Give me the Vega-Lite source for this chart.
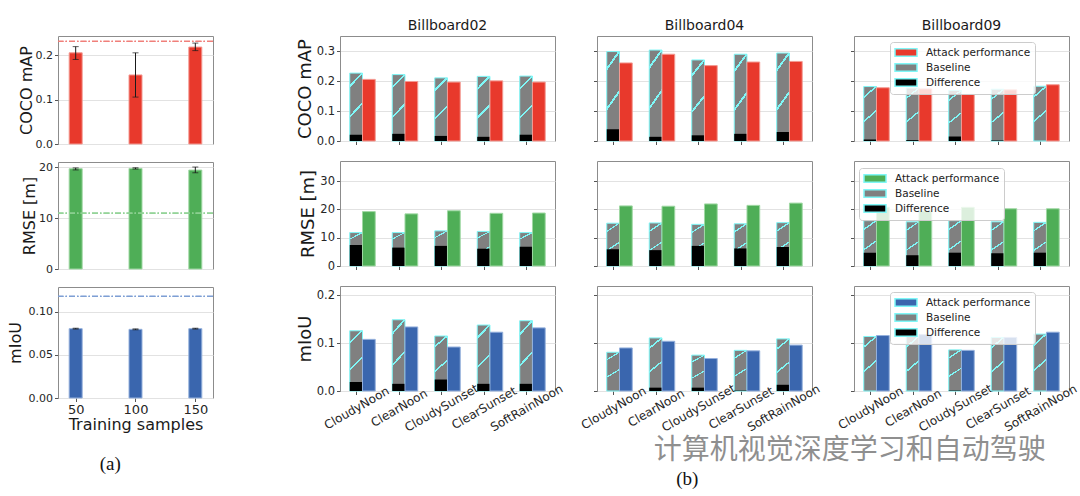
{
"$schema":"https://vega.github.io/schema/vega-lite/v6.json",
"background":"white",
"padding":{"left":6,"top":18,"right":0,"bottom":0},
"config":{
 "font":"DejaVu Sans",
 "view":{"stroke":"#8c8c8c","strokeWidth":1},
 "axis":{"labelFont":"DejaVu Sans","titleFont":"DejaVu Sans","labelColor":"#262626","titleColor":"#1a1a1a","titleFontWeight":"normal","tickColor":"#555555","tickWidth":1,"gridColor":"#e2e2e2","gridWidth":1,"domain":false,"tickCount":12},
 "title":{"font":"DejaVu Sans","fontWeight":"normal","fontSize":14,"color":"#1a1a1a"}
},
"title":{"text":"计算机视觉深度学习和自动驾驶","orient":"bottom","anchor":"end","frame":"bounds","font":"Noto Sans CJK SC","fontSize":28,"fontWeight":"normal","color":"#8f8f8f","opacity":0.75,"dx":-33,"dy":-52,"offset":0},
"datasets":{
 "left":[
  {"metric":"COCO","samples":50,"value":0.206,"lo":0.191,"hi":0.220,"ref":0.232},
  {"metric":"COCO","samples":100,"value":0.156,"lo":0.106,"hi":0.206,"ref":0.232},
  {"metric":"COCO","samples":150,"value":0.219,"lo":0.211,"hi":0.228,"ref":0.232},
  {"metric":"RMSE","samples":50,"value":19.74,"lo":19.5,"hi":19.9,"ref":11.0},
  {"metric":"RMSE","samples":100,"value":19.8,"lo":19.67,"hi":19.93,"ref":11.0},
  {"metric":"RMSE","samples":150,"value":19.47,"lo":18.94,"hi":20.07,"ref":11.0},
  {"metric":"mIoU","samples":50,"value":0.0806,"lo":0.0801,"hi":0.0811,"ref":0.1182},
  {"metric":"mIoU","samples":100,"value":0.0798,"lo":0.0793,"hi":0.0803,"ref":0.1182},
  {"metric":"mIoU","samples":150,"value":0.0806,"lo":0.0801,"hi":0.0811,"ref":0.1182}
 ],
 "grid":[
  {"board":"Billboard02","metric":"COCO","condition":"CloudyNoon","baseline":0.227,"attack":0.206,"difference":0.021},
  {"board":"Billboard02","metric":"COCO","condition":"ClearNoon","baseline":0.222,"attack":0.199,"difference":0.024},
  {"board":"Billboard02","metric":"COCO","condition":"CloudySunset","baseline":0.211,"attack":0.197,"difference":0.017},
  {"board":"Billboard02","metric":"COCO","condition":"ClearSunset","baseline":0.216,"attack":0.201,"difference":0.014},
  {"board":"Billboard02","metric":"COCO","condition":"SoftRainNoon","baseline":0.217,"attack":0.197,"difference":0.021},
  {"board":"Billboard04","metric":"COCO","condition":"CloudyNoon","baseline":0.299,"attack":0.261,"difference":0.039},
  {"board":"Billboard04","metric":"COCO","condition":"ClearNoon","baseline":0.304,"attack":0.290,"difference":0.014},
  {"board":"Billboard04","metric":"COCO","condition":"CloudySunset","baseline":0.271,"attack":0.252,"difference":0.019},
  {"board":"Billboard04","metric":"COCO","condition":"ClearSunset","baseline":0.290,"attack":0.264,"difference":0.024},
  {"board":"Billboard04","metric":"COCO","condition":"SoftRainNoon","baseline":0.294,"attack":0.266,"difference":0.030},
  {"board":"Billboard09","metric":"COCO","condition":"CloudyNoon","baseline":0.182,"attack":0.178,"difference":0.005},
  {"board":"Billboard09","metric":"COCO","condition":"ClearNoon","baseline":0.177,"attack":0.174,"difference":0.003},
  {"board":"Billboard09","metric":"COCO","condition":"CloudySunset","baseline":0.169,"attack":0.156,"difference":0.015},
  {"board":"Billboard09","metric":"COCO","condition":"ClearSunset","baseline":0.173,"attack":0.171,"difference":0.002},
  {"board":"Billboard09","metric":"COCO","condition":"SoftRainNoon","baseline":0.183,"attack":0.188,"difference":0},
  {"board":"Billboard02","metric":"RMSE","condition":"CloudyNoon","baseline":11.8,"attack":19.2,"difference":7.4},
  {"board":"Billboard02","metric":"RMSE","condition":"ClearNoon","baseline":11.8,"attack":18.4,"difference":6.5},
  {"board":"Billboard02","metric":"RMSE","condition":"CloudySunset","baseline":12.4,"attack":19.5,"difference":7.1},
  {"board":"Billboard02","metric":"RMSE","condition":"ClearSunset","baseline":12.2,"attack":18.6,"difference":6.1},
  {"board":"Billboard02","metric":"RMSE","condition":"SoftRainNoon","baseline":11.8,"attack":18.7,"difference":6.8},
  {"board":"Billboard04","metric":"RMSE","condition":"CloudyNoon","baseline":15.1,"attack":21.2,"difference":5.9},
  {"board":"Billboard04","metric":"RMSE","condition":"ClearNoon","baseline":15.2,"attack":21.1,"difference":5.6},
  {"board":"Billboard04","metric":"RMSE","condition":"CloudySunset","baseline":14.7,"attack":21.9,"difference":7.1},
  {"board":"Billboard04","metric":"RMSE","condition":"ClearSunset","baseline":14.9,"attack":21.4,"difference":6.2},
  {"board":"Billboard04","metric":"RMSE","condition":"SoftRainNoon","baseline":15.3,"attack":22.2,"difference":6.7},
  {"board":"Billboard09","metric":"RMSE","condition":"CloudyNoon","baseline":16.0,"attack":20.7,"difference":4.7},
  {"board":"Billboard09","metric":"RMSE","condition":"ClearNoon","baseline":15.6,"attack":19.4,"difference":3.8},
  {"board":"Billboard09","metric":"RMSE","condition":"CloudySunset","baseline":16.0,"attack":20.7,"difference":4.7},
  {"board":"Billboard09","metric":"RMSE","condition":"ClearSunset","baseline":15.6,"attack":20.2,"difference":4.5},
  {"board":"Billboard09","metric":"RMSE","condition":"SoftRainNoon","baseline":15.4,"attack":20.2,"difference":4.7},
  {"board":"Billboard02","metric":"mIoU","condition":"CloudyNoon","baseline":0.126,"attack":0.108,"difference":0.019},
  {"board":"Billboard02","metric":"mIoU","condition":"ClearNoon","baseline":0.149,"attack":0.134,"difference":0.015},
  {"board":"Billboard02","metric":"mIoU","condition":"CloudySunset","baseline":0.115,"attack":0.092,"difference":0.024},
  {"board":"Billboard02","metric":"mIoU","condition":"ClearSunset","baseline":0.138,"attack":0.123,"difference":0.015},
  {"board":"Billboard02","metric":"mIoU","condition":"SoftRainNoon","baseline":0.147,"attack":0.132,"difference":0.015},
  {"board":"Billboard04","metric":"mIoU","condition":"CloudyNoon","baseline":0.081,"attack":0.090,"difference":0},
  {"board":"Billboard04","metric":"mIoU","condition":"ClearNoon","baseline":0.111,"attack":0.104,"difference":0.007},
  {"board":"Billboard04","metric":"mIoU","condition":"CloudySunset","baseline":0.075,"attack":0.068,"difference":0.007},
  {"board":"Billboard04","metric":"mIoU","condition":"ClearSunset","baseline":0.085,"attack":0.084,"difference":0.001},
  {"board":"Billboard04","metric":"mIoU","condition":"SoftRainNoon","baseline":0.109,"attack":0.096,"difference":0.013},
  {"board":"Billboard09","metric":"mIoU","condition":"CloudyNoon","baseline":0.114,"attack":0.116,"difference":0},
  {"board":"Billboard09","metric":"mIoU","condition":"ClearNoon","baseline":0.114,"attack":0.118,"difference":0},
  {"board":"Billboard09","metric":"mIoU","condition":"CloudySunset","baseline":0.086,"attack":0.085,"difference":0.001},
  {"board":"Billboard09","metric":"mIoU","condition":"ClearSunset","baseline":0.112,"attack":0.112,"difference":0},
  {"board":"Billboard09","metric":"mIoU","condition":"SoftRainNoon","baseline":0.119,"attack":0.123,"difference":0}
 ]
},
"resolve":{"scale":{"x":"independent","y":"independent","color":"independent"},"axis":{"x":"independent","y":"independent"},"legend":{"color":"independent"}},
"spacing":81,
"hconcat":[
 {
  "vconcat":[
   {"width":155,"height":108,"data":{"name":"left"},"transform":[{"filter":"datum.metric==='COCO'"}],
    "layer":[
     {"mark":{"type":"bar","width":13,"color":"#e8392c","stroke":"#f39a92","strokeWidth":1},
      "encoding":{"x":{"field":"samples","type":"quantitative","scale":{"domain":[39.4,160.6],"nice":false,"zero":false},"axis":{"title":null,"labels":false,"ticks":false,"grid":false}},
       "y":{"field":"value","type":"quantitative","scale":{"domain":[0,0.244],"nice":false},"axis":{"title":"COCO mAP","titleFontSize":16,"titlePadding":1,"values":[0,0.1,0.2],"format":".1f","labelFontSize":11,"labelPadding":2,"tickSize":3.5,"grid":true}}}},
     {"mark":{"type":"rule","color":"#1a1a1a","strokeWidth":1},"encoding":{"x":{"field":"samples","type":"quantitative"},"y":{"field":"lo","type":"quantitative"},"y2":{"field":"hi"}}},
     {"mark":{"type":"tick","orient":"horizontal","size":6,"thickness":1,"color":"#1a1a1a"},"encoding":{"x":{"field":"samples","type":"quantitative"},"y":{"field":"lo","type":"quantitative"}}},
     {"mark":{"type":"tick","orient":"horizontal","size":6,"thickness":1,"color":"#1a1a1a"},"encoding":{"x":{"field":"samples","type":"quantitative"},"y":{"field":"hi","type":"quantitative"}}},
     {"mark":{"type":"rule","color":"#f07f7a","strokeWidth":1,"strokeDash":[6,2,1.5,2]},"encoding":{"y":{"field":"ref","type":"quantitative"}}}
    ]},
   {"width":155,"height":107,"data":{"name":"left"},"transform":[{"filter":"datum.metric==='RMSE'"}],
    "layer":[
     {"mark":{"type":"bar","width":13,"color":"#4fae57","stroke":"#9fd8a3","strokeWidth":1},
      "encoding":{"x":{"field":"samples","type":"quantitative","scale":{"domain":[39.4,160.6],"nice":false,"zero":false},"axis":{"title":null,"labels":false,"ticks":false,"grid":false}},
       "y":{"field":"value","type":"quantitative","scale":{"domain":[0,21.06],"nice":false},"axis":{"title":"RMSE [m]","titleFontSize":16,"titlePadding":1,"values":[0,10,20],"format":"d","labelFontSize":11,"labelPadding":2,"tickSize":3.5,"grid":true}}}},
     {"mark":{"type":"rule","color":"#1a1a1a","strokeWidth":1},"encoding":{"x":{"field":"samples","type":"quantitative"},"y":{"field":"lo","type":"quantitative"},"y2":{"field":"hi"}}},
     {"mark":{"type":"tick","orient":"horizontal","size":6,"thickness":1,"color":"#1a1a1a"},"encoding":{"x":{"field":"samples","type":"quantitative"},"y":{"field":"lo","type":"quantitative"}}},
     {"mark":{"type":"tick","orient":"horizontal","size":6,"thickness":1,"color":"#1a1a1a"},"encoding":{"x":{"field":"samples","type":"quantitative"},"y":{"field":"hi","type":"quantitative"}}},
     {"mark":{"type":"rule","color":"#8fd193","strokeWidth":1,"strokeDash":[6,2,1.5,2]},"encoding":{"y":{"field":"ref","type":"quantitative"}}}
    ]},
   {"width":155,"height":111,"data":{"name":"left"},"transform":[{"filter":"datum.metric==='mIoU'"}],
    "layer":[
     {"mark":{"type":"bar","width":13,"color":"#3a66ae","stroke":"#94b0dc","strokeWidth":1},
      "encoding":{"x":{"field":"samples","type":"quantitative","scale":{"domain":[39.4,160.6],"nice":false,"zero":false},"axis":{"title":"Training samples","titleFontSize":16,"titlePadding":0,"values":[50,100,150],"labelFontSize":13,"labelPadding":2,"tickSize":3.5,"grid":false}},
       "y":{"field":"value","type":"quantitative","scale":{"domain":[0,0.129],"nice":false},"axis":{"title":"mIoU","titleFontSize":16,"titlePadding":5,"values":[0,0.05,0.1],"format":".2f","labelFontSize":11,"labelPadding":2,"tickSize":3.5,"grid":true}}}},
     {"mark":{"type":"rule","color":"#1a1a1a","strokeWidth":1},"encoding":{"x":{"field":"samples","type":"quantitative"},"y":{"field":"lo","type":"quantitative"},"y2":{"field":"hi"}}},
     {"mark":{"type":"tick","orient":"horizontal","size":6,"thickness":1,"color":"#1a1a1a"},"encoding":{"x":{"field":"samples","type":"quantitative"},"y":{"field":"lo","type":"quantitative"}}},
     {"mark":{"type":"tick","orient":"horizontal","size":6,"thickness":1,"color":"#1a1a1a"},"encoding":{"x":{"field":"samples","type":"quantitative"},"y":{"field":"hi","type":"quantitative"}}},
     {"mark":{"type":"rule","color":"#7e9ed4","strokeWidth":1,"strokeDash":[6,2,1.5,2]},"encoding":{"y":{"field":"ref","type":"quantitative"}}}
    ]}
  ],
  "spacing":18,
  "bounds":"flush",
  "resolve":{"scale":{"x":"independent","y":"independent"},"axis":{"x":"independent","y":"independent"}},
  "title":{"text":"(a)","orient":"bottom","anchor":"middle","font":"Liberation Serif","fontSize":19,"fontWeight":"normal","offset":22,"color":"#111"}
 },
 {
  "concat":[
   {"width":215,"height":105,"title":{"text":"Billboard02","frame":"group","offset":3},"data":{"name":"grid"},"transform":[{"filter":"datum.board==='Billboard02' && datum.metric==='COCO'"}],
    "encoding":{"x":{"field":"condition","type":"nominal","scale":{"type":"point","domain":["CloudyNoon","ClearNoon","CloudySunset","ClearSunset","SoftRainNoon"],"padding":0.53,"align":0.358},"axis":{"title":null,"labels":false,"ticks":true,"tickSize":3.5,"grid":false}}},
    "layer":[
     {"mark":{"type":"bar","width":12.75,"stroke":"#7ff7f7","strokeWidth":1},"encoding":{"y":{"field":"baseline","type":"quantitative","scale":{"domain":[0,0.351],"nice":false},"axis":{"title":"COCO mAP","titleFontSize":18,"titlePadding":2,"values":[0,0.1,0.2,0.3],"format":".1f","labelFontSize":11.5,"labelPadding":2,"tickSize":3.5,"grid":true}},"color":{"datum":"Baseline","scale":{"domain":["Attack performance","Baseline","Difference"],"range":["#e8392c","#808080","#000000"]},"legend":null}}},
     {"mark":{"type":"bar","width":12.75,"color":{"gradient":"linear","x1":0,"y1":0,"x2":0.2,"y2":1,"stops":[{"offset":0,"color":"rgba(127,247,247,0)"},{"offset":0.17,"color":"rgba(127,247,247,0)"},{"offset":0.17,"color":"#7ff7f7"},{"offset":0.205,"color":"#7ff7f7"},{"offset":0.205,"color":"rgba(127,247,247,0)"},{"offset":0.6,"color":"rgba(127,247,247,0)"},{"offset":0.6,"color":"#7ff7f7"},{"offset":0.635,"color":"#7ff7f7"},{"offset":0.635,"color":"rgba(127,247,247,0)"},{"offset":1,"color":"rgba(127,247,247,0)"}]}},"encoding":{"y":{"field":"baseline","type":"quantitative"}}},
     {"mark":{"type":"bar","width":12.75},"encoding":{"y":{"field":"difference","type":"quantitative"},"color":{"datum":"Difference","legend":null}}},
     {"mark":{"type":"bar","width":12.75,"xOffset":12.75,"stroke":"#f39a92","strokeWidth":1},"encoding":{"y":{"field":"attack","type":"quantitative"},"color":{"datum":"Attack performance","legend":null}}}
    ]},
   {"width":215,"height":105,"title":{"text":"Billboard04","frame":"group","offset":3},"data":{"name":"grid"},"transform":[{"filter":"datum.board==='Billboard04' && datum.metric==='COCO'"}],
    "encoding":{"x":{"field":"condition","type":"nominal","scale":{"type":"point","domain":["CloudyNoon","ClearNoon","CloudySunset","ClearSunset","SoftRainNoon"],"padding":0.53,"align":0.358},"axis":{"title":null,"labels":false,"ticks":true,"tickSize":3.5,"grid":false}}},
    "layer":[
     {"mark":{"type":"bar","width":12.75,"stroke":"#7ff7f7","strokeWidth":1},"encoding":{"y":{"field":"baseline","type":"quantitative","scale":{"domain":[0,0.351],"nice":false},"axis":{"title":null,"labels":false,"values":[0,0.1,0.2,0.3],"tickSize":3.5,"grid":true}},"color":{"datum":"Baseline","scale":{"domain":["Attack performance","Baseline","Difference"],"range":["#e8392c","#808080","#000000"]},"legend":null}}},
     {"mark":{"type":"bar","width":12.75,"color":{"gradient":"linear","x1":0,"y1":0,"x2":0.2,"y2":1,"stops":[{"offset":0,"color":"rgba(127,247,247,0)"},{"offset":0.17,"color":"rgba(127,247,247,0)"},{"offset":0.17,"color":"#7ff7f7"},{"offset":0.205,"color":"#7ff7f7"},{"offset":0.205,"color":"rgba(127,247,247,0)"},{"offset":0.6,"color":"rgba(127,247,247,0)"},{"offset":0.6,"color":"#7ff7f7"},{"offset":0.635,"color":"#7ff7f7"},{"offset":0.635,"color":"rgba(127,247,247,0)"},{"offset":1,"color":"rgba(127,247,247,0)"}]}},"encoding":{"y":{"field":"baseline","type":"quantitative"}}},
     {"mark":{"type":"bar","width":12.75},"encoding":{"y":{"field":"difference","type":"quantitative"},"color":{"datum":"Difference","legend":null}}},
     {"mark":{"type":"bar","width":12.75,"xOffset":12.75,"stroke":"#f39a92","strokeWidth":1},"encoding":{"y":{"field":"attack","type":"quantitative"},"color":{"datum":"Attack performance","legend":null}}}
    ]},
   {"width":215,"height":105,"title":{"text":"Billboard09","frame":"group","offset":3},"data":{"name":"grid"},"transform":[{"filter":"datum.board==='Billboard09' && datum.metric==='COCO'"}],
    "encoding":{"x":{"field":"condition","type":"nominal","scale":{"type":"point","domain":["CloudyNoon","ClearNoon","CloudySunset","ClearSunset","SoftRainNoon"],"padding":0.53,"align":0.358},"axis":{"title":null,"labels":false,"ticks":true,"tickSize":3.5,"grid":false}}},
    "layer":[
     {"mark":{"type":"bar","width":12.75,"stroke":"#7ff7f7","strokeWidth":1},"encoding":{"y":{"field":"baseline","type":"quantitative","scale":{"domain":[0,0.351],"nice":false},"axis":{"title":null,"labels":false,"values":[0,0.1,0.2,0.3],"tickSize":3.5,"grid":true}},"color":{"datum":"Baseline","scale":{"domain":["Attack performance","Baseline","Difference"],"range":["#e8392c","#808080","#000000"]},"legend":{"title":null,"orient":"none","legendX":36,"legendY":6,"direction":"vertical","symbolType":"M-1,-0.7H3V0.7H-1Z","symbolSize":121,"symbolStrokeWidth":1.5,"labelFont":"DejaVu Sans","labelFontSize":10.5,"labelColor":"#222222","labelOffset":19,"rowPadding":0,"padding":4,"fillColor":"rgba(255,255,255,0.8)","strokeColor":"#cccccc","cornerRadius":3,"encode":{"symbols":{"update":{"stroke":{"signal":"datum.value === 'Baseline' ? '#7ff7f7' : 'transparent'"}}}}}}}},
     {"mark":{"type":"bar","width":12.75,"color":{"gradient":"linear","x1":0,"y1":0,"x2":0.2,"y2":1,"stops":[{"offset":0,"color":"rgba(127,247,247,0)"},{"offset":0.17,"color":"rgba(127,247,247,0)"},{"offset":0.17,"color":"#7ff7f7"},{"offset":0.205,"color":"#7ff7f7"},{"offset":0.205,"color":"rgba(127,247,247,0)"},{"offset":0.6,"color":"rgba(127,247,247,0)"},{"offset":0.6,"color":"#7ff7f7"},{"offset":0.635,"color":"#7ff7f7"},{"offset":0.635,"color":"rgba(127,247,247,0)"},{"offset":1,"color":"rgba(127,247,247,0)"}]}},"encoding":{"y":{"field":"baseline","type":"quantitative"}}},
     {"mark":{"type":"bar","width":12.75},"encoding":{"y":{"field":"difference","type":"quantitative"},"color":{"datum":"Difference"}}},
     {"mark":{"type":"bar","width":12.75,"xOffset":12.75,"stroke":"#f39a92","strokeWidth":1},"encoding":{"y":{"field":"attack","type":"quantitative"},"color":{"datum":"Attack performance"}}}
    ]},
   {"width":215,"height":105,"data":{"name":"grid"},"transform":[{"filter":"datum.board==='Billboard02' && datum.metric==='RMSE'"}],
    "encoding":{"x":{"field":"condition","type":"nominal","scale":{"type":"point","domain":["CloudyNoon","ClearNoon","CloudySunset","ClearSunset","SoftRainNoon"],"padding":0.53,"align":0.358},"axis":{"title":null,"labels":false,"ticks":true,"tickSize":3.5,"grid":false}}},
    "layer":[
     {"mark":{"type":"bar","width":12.75,"stroke":"#7ff7f7","strokeWidth":1},"encoding":{"y":{"field":"baseline","type":"quantitative","scale":{"domain":[0,37.06],"nice":false},"axis":{"title":"RMSE [m]","titleFontSize":18,"titlePadding":2,"values":[0,10,20,30],"format":"d","labelFontSize":11.5,"labelPadding":2,"tickSize":3.5,"grid":true}},"color":{"datum":"Baseline","scale":{"domain":["Attack performance","Baseline","Difference"],"range":["#4fae57","#808080","#000000"]},"legend":null}}},
     {"mark":{"type":"bar","width":12.75,"color":{"gradient":"linear","x1":0,"y1":0,"x2":0.2,"y2":1,"stops":[{"offset":0,"color":"rgba(127,247,247,0)"},{"offset":0.17,"color":"rgba(127,247,247,0)"},{"offset":0.17,"color":"#7ff7f7"},{"offset":0.205,"color":"#7ff7f7"},{"offset":0.205,"color":"rgba(127,247,247,0)"},{"offset":0.6,"color":"rgba(127,247,247,0)"},{"offset":0.6,"color":"#7ff7f7"},{"offset":0.635,"color":"#7ff7f7"},{"offset":0.635,"color":"rgba(127,247,247,0)"},{"offset":1,"color":"rgba(127,247,247,0)"}]}},"encoding":{"y":{"field":"baseline","type":"quantitative"}}},
     {"mark":{"type":"bar","width":12.75},"encoding":{"y":{"field":"difference","type":"quantitative"},"color":{"datum":"Difference","legend":null}}},
     {"mark":{"type":"bar","width":12.75,"xOffset":12.75,"stroke":"#9fd8a3","strokeWidth":1},"encoding":{"y":{"field":"attack","type":"quantitative"},"color":{"datum":"Attack performance","legend":null}}}
    ]},
   {"width":215,"height":105,"data":{"name":"grid"},"transform":[{"filter":"datum.board==='Billboard04' && datum.metric==='RMSE'"}],
    "encoding":{"x":{"field":"condition","type":"nominal","scale":{"type":"point","domain":["CloudyNoon","ClearNoon","CloudySunset","ClearSunset","SoftRainNoon"],"padding":0.53,"align":0.358},"axis":{"title":null,"labels":false,"ticks":true,"tickSize":3.5,"grid":false}}},
    "layer":[
     {"mark":{"type":"bar","width":12.75,"stroke":"#7ff7f7","strokeWidth":1},"encoding":{"y":{"field":"baseline","type":"quantitative","scale":{"domain":[0,37.06],"nice":false},"axis":{"title":null,"labels":false,"values":[0,10,20,30],"tickSize":3.5,"grid":true}},"color":{"datum":"Baseline","scale":{"domain":["Attack performance","Baseline","Difference"],"range":["#4fae57","#808080","#000000"]},"legend":null}}},
     {"mark":{"type":"bar","width":12.75,"color":{"gradient":"linear","x1":0,"y1":0,"x2":0.2,"y2":1,"stops":[{"offset":0,"color":"rgba(127,247,247,0)"},{"offset":0.17,"color":"rgba(127,247,247,0)"},{"offset":0.17,"color":"#7ff7f7"},{"offset":0.205,"color":"#7ff7f7"},{"offset":0.205,"color":"rgba(127,247,247,0)"},{"offset":0.6,"color":"rgba(127,247,247,0)"},{"offset":0.6,"color":"#7ff7f7"},{"offset":0.635,"color":"#7ff7f7"},{"offset":0.635,"color":"rgba(127,247,247,0)"},{"offset":1,"color":"rgba(127,247,247,0)"}]}},"encoding":{"y":{"field":"baseline","type":"quantitative"}}},
     {"mark":{"type":"bar","width":12.75},"encoding":{"y":{"field":"difference","type":"quantitative"},"color":{"datum":"Difference","legend":null}}},
     {"mark":{"type":"bar","width":12.75,"xOffset":12.75,"stroke":"#9fd8a3","strokeWidth":1},"encoding":{"y":{"field":"attack","type":"quantitative"},"color":{"datum":"Attack performance","legend":null}}}
    ]},
   {"width":215,"height":105,"data":{"name":"grid"},"transform":[{"filter":"datum.board==='Billboard09' && datum.metric==='RMSE'"}],
    "encoding":{"x":{"field":"condition","type":"nominal","scale":{"type":"point","domain":["CloudyNoon","ClearNoon","CloudySunset","ClearSunset","SoftRainNoon"],"padding":0.53,"align":0.358},"axis":{"title":null,"labels":false,"ticks":true,"tickSize":3.5,"grid":false}}},
    "layer":[
     {"mark":{"type":"bar","width":12.75,"stroke":"#7ff7f7","strokeWidth":1},"encoding":{"y":{"field":"baseline","type":"quantitative","scale":{"domain":[0,37.06],"nice":false},"axis":{"title":null,"labels":false,"values":[0,10,20,30],"tickSize":3.5,"grid":true}},"color":{"datum":"Baseline","scale":{"domain":["Attack performance","Baseline","Difference"],"range":["#4fae57","#808080","#000000"]},"legend":{"title":null,"orient":"none","legendX":5,"legendY":7,"direction":"vertical","symbolType":"M-1,-0.7H3V0.7H-1Z","symbolSize":121,"symbolStrokeWidth":1.5,"labelFont":"DejaVu Sans","labelFontSize":10.5,"labelColor":"#222222","labelOffset":19,"rowPadding":0,"padding":4,"fillColor":"rgba(255,255,255,0.8)","strokeColor":"#cccccc","cornerRadius":3,"encode":{"symbols":{"update":{"stroke":{"signal":"datum.value === 'Baseline' ? '#7ff7f7' : 'transparent'"}}}}}}}},
     {"mark":{"type":"bar","width":12.75,"color":{"gradient":"linear","x1":0,"y1":0,"x2":0.2,"y2":1,"stops":[{"offset":0,"color":"rgba(127,247,247,0)"},{"offset":0.17,"color":"rgba(127,247,247,0)"},{"offset":0.17,"color":"#7ff7f7"},{"offset":0.205,"color":"#7ff7f7"},{"offset":0.205,"color":"rgba(127,247,247,0)"},{"offset":0.6,"color":"rgba(127,247,247,0)"},{"offset":0.6,"color":"#7ff7f7"},{"offset":0.635,"color":"#7ff7f7"},{"offset":0.635,"color":"rgba(127,247,247,0)"},{"offset":1,"color":"rgba(127,247,247,0)"}]}},"encoding":{"y":{"field":"baseline","type":"quantitative"}}},
     {"mark":{"type":"bar","width":12.75},"encoding":{"y":{"field":"difference","type":"quantitative"},"color":{"datum":"Difference"}}},
     {"mark":{"type":"bar","width":12.75,"xOffset":12.75,"stroke":"#9fd8a3","strokeWidth":1},"encoding":{"y":{"field":"attack","type":"quantitative"},"color":{"datum":"Attack performance"}}}
    ]},
   {"width":215,"height":105,"data":{"name":"grid"},"transform":[{"filter":"datum.board==='Billboard02' && datum.metric==='mIoU'"}],
    "encoding":{"x":{"field":"condition","type":"nominal","scale":{"type":"point","domain":["CloudyNoon","ClearNoon","CloudySunset","ClearSunset","SoftRainNoon"],"padding":0.53,"align":0.358},"axis":{"title":null,"labelAngle":-30,"labelAlign":"center","labelBaseline":"middle","labelPadding":13,"labelFontSize":12,"labelOverlap":false,"ticks":true,"tickSize":3.5,"grid":false}}},
    "layer":[
     {"mark":{"type":"bar","width":12.75,"stroke":"#7ff7f7","strokeWidth":1},"encoding":{"y":{"field":"baseline","type":"quantitative","scale":{"domain":[0,0.2196],"nice":false},"axis":{"title":"mIoU","titleFontSize":18,"titlePadding":2,"values":[0,0.1,0.2],"format":".1f","labelFontSize":11.5,"labelPadding":2,"tickSize":3.5,"grid":true}},"color":{"datum":"Baseline","scale":{"domain":["Attack performance","Baseline","Difference"],"range":["#3a66ae","#808080","#000000"]},"legend":null}}},
     {"mark":{"type":"bar","width":12.75,"color":{"gradient":"linear","x1":0,"y1":0,"x2":0.2,"y2":1,"stops":[{"offset":0,"color":"rgba(127,247,247,0)"},{"offset":0.17,"color":"rgba(127,247,247,0)"},{"offset":0.17,"color":"#7ff7f7"},{"offset":0.205,"color":"#7ff7f7"},{"offset":0.205,"color":"rgba(127,247,247,0)"},{"offset":0.6,"color":"rgba(127,247,247,0)"},{"offset":0.6,"color":"#7ff7f7"},{"offset":0.635,"color":"#7ff7f7"},{"offset":0.635,"color":"rgba(127,247,247,0)"},{"offset":1,"color":"rgba(127,247,247,0)"}]}},"encoding":{"y":{"field":"baseline","type":"quantitative"}}},
     {"mark":{"type":"bar","width":12.75},"encoding":{"y":{"field":"difference","type":"quantitative"},"color":{"datum":"Difference","legend":null}}},
     {"mark":{"type":"bar","width":12.75,"xOffset":12.75,"stroke":"#94b0dc","strokeWidth":1},"encoding":{"y":{"field":"attack","type":"quantitative"},"color":{"datum":"Attack performance","legend":null}}}
    ]},
   {"width":215,"height":105,"data":{"name":"grid"},"transform":[{"filter":"datum.board==='Billboard04' && datum.metric==='mIoU'"}],
    "encoding":{"x":{"field":"condition","type":"nominal","scale":{"type":"point","domain":["CloudyNoon","ClearNoon","CloudySunset","ClearSunset","SoftRainNoon"],"padding":0.53,"align":0.358},"axis":{"title":null,"labelAngle":-30,"labelAlign":"center","labelBaseline":"middle","labelPadding":13,"labelFontSize":12,"labelOverlap":false,"ticks":true,"tickSize":3.5,"grid":false}}},
    "layer":[
     {"mark":{"type":"bar","width":12.75,"stroke":"#7ff7f7","strokeWidth":1},"encoding":{"y":{"field":"baseline","type":"quantitative","scale":{"domain":[0,0.2196],"nice":false},"axis":{"title":null,"labels":false,"values":[0,0.1,0.2],"tickSize":3.5,"grid":true}},"color":{"datum":"Baseline","scale":{"domain":["Attack performance","Baseline","Difference"],"range":["#3a66ae","#808080","#000000"]},"legend":null}}},
     {"mark":{"type":"bar","width":12.75,"color":{"gradient":"linear","x1":0,"y1":0,"x2":0.2,"y2":1,"stops":[{"offset":0,"color":"rgba(127,247,247,0)"},{"offset":0.17,"color":"rgba(127,247,247,0)"},{"offset":0.17,"color":"#7ff7f7"},{"offset":0.205,"color":"#7ff7f7"},{"offset":0.205,"color":"rgba(127,247,247,0)"},{"offset":0.6,"color":"rgba(127,247,247,0)"},{"offset":0.6,"color":"#7ff7f7"},{"offset":0.635,"color":"#7ff7f7"},{"offset":0.635,"color":"rgba(127,247,247,0)"},{"offset":1,"color":"rgba(127,247,247,0)"}]}},"encoding":{"y":{"field":"baseline","type":"quantitative"}}},
     {"mark":{"type":"bar","width":12.75},"encoding":{"y":{"field":"difference","type":"quantitative"},"color":{"datum":"Difference","legend":null}}},
     {"mark":{"type":"bar","width":12.75,"xOffset":12.75,"stroke":"#94b0dc","strokeWidth":1},"encoding":{"y":{"field":"attack","type":"quantitative"},"color":{"datum":"Attack performance","legend":null}}}
    ]},
   {"width":215,"height":105,"data":{"name":"grid"},"transform":[{"filter":"datum.board==='Billboard09' && datum.metric==='mIoU'"}],
    "encoding":{"x":{"field":"condition","type":"nominal","scale":{"type":"point","domain":["CloudyNoon","ClearNoon","CloudySunset","ClearSunset","SoftRainNoon"],"padding":0.53,"align":0.358},"axis":{"title":null,"labelAngle":-30,"labelAlign":"center","labelBaseline":"middle","labelPadding":13,"labelFontSize":12,"labelOverlap":false,"ticks":true,"tickSize":3.5,"grid":false}}},
    "layer":[
     {"mark":{"type":"bar","width":12.75,"stroke":"#7ff7f7","strokeWidth":1},"encoding":{"y":{"field":"baseline","type":"quantitative","scale":{"domain":[0,0.2196],"nice":false},"axis":{"title":null,"labels":false,"values":[0,0.1,0.2],"tickSize":3.5,"grid":true}},"color":{"datum":"Baseline","scale":{"domain":["Attack performance","Baseline","Difference"],"range":["#3a66ae","#808080","#000000"]},"legend":{"title":null,"orient":"none","legendX":36,"legendY":6,"direction":"vertical","symbolType":"M-1,-0.7H3V0.7H-1Z","symbolSize":121,"symbolStrokeWidth":1.5,"labelFont":"DejaVu Sans","labelFontSize":10.5,"labelColor":"#222222","labelOffset":19,"rowPadding":0,"padding":4,"fillColor":"rgba(255,255,255,0.8)","strokeColor":"#cccccc","cornerRadius":3,"encode":{"symbols":{"update":{"stroke":{"signal":"datum.value === 'Baseline' ? '#7ff7f7' : 'transparent'"}}}}}}}},
     {"mark":{"type":"bar","width":12.75,"color":{"gradient":"linear","x1":0,"y1":0,"x2":0.2,"y2":1,"stops":[{"offset":0,"color":"rgba(127,247,247,0)"},{"offset":0.17,"color":"rgba(127,247,247,0)"},{"offset":0.17,"color":"#7ff7f7"},{"offset":0.205,"color":"#7ff7f7"},{"offset":0.205,"color":"rgba(127,247,247,0)"},{"offset":0.6,"color":"rgba(127,247,247,0)"},{"offset":0.6,"color":"#7ff7f7"},{"offset":0.635,"color":"#7ff7f7"},{"offset":0.635,"color":"rgba(127,247,247,0)"},{"offset":1,"color":"rgba(127,247,247,0)"}]}},"encoding":{"y":{"field":"baseline","type":"quantitative"}}},
     {"mark":{"type":"bar","width":12.75},"encoding":{"y":{"field":"difference","type":"quantitative"},"color":{"datum":"Difference"}}},
     {"mark":{"type":"bar","width":12.75,"xOffset":12.75,"stroke":"#94b0dc","strokeWidth":1},"encoding":{"y":{"field":"attack","type":"quantitative"},"color":{"datum":"Attack performance"}}}
    ]}
  ],
  "columns":3,
  "spacing":{"row":20,"column":42},
  "bounds":"flush",
  "resolve":{"scale":{"x":"independent","y":"independent","color":"independent"},"axis":{"x":"independent","y":"independent"},"legend":{"color":"independent"}},
  "title":{"text":"(b)","orient":"bottom","anchor":"middle","font":"Liberation Serif","fontSize":19,"fontWeight":"normal","offset":36,"color":"#111"}
 }
]
}
